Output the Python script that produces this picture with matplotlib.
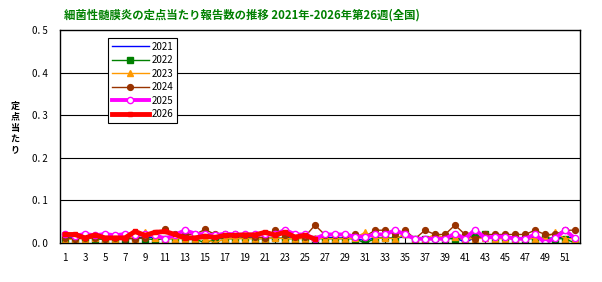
import matplotlib
matplotlib.use("Agg")
import matplotlib.pyplot as plt
import numpy as np

plt.rcParams['font.family'] = ['Noto Sans CJK JP', 'DejaVu Sans']

weeks = list(range(1, 53))
y2021 = [0.012, 0.012, 0.010, 0.012, 0.012, 0.010, 0.012, 0.012, 0.014, 0.012, 0.012, 0.010,
         0.012, 0.012, 0.010, 0.012, 0.012, 0.010, 0.012, 0.012, 0.012, 0.010, 0.012, 0.012,
         0.012, 0.010, 0.014, 0.012, 0.012, 0.010, 0.006, 0.012, 0.012, 0.012, 0.014, 0.012,
         0.012, 0.010, 0.012, 0.012, 0.002, 0.012, 0.014, 0.012, 0.012, 0.010, 0.012, 0.012,
         0.010, 0.012, 0.014, 0.012]
y2022 = [0.010, 0.010, 0.012, 0.010, 0.008, 0.010, 0.010, 0.012, 0.010, 0.008, 0.010, 0.010,
         0.012, 0.010, 0.000, 0.010, 0.010, 0.010, 0.012, 0.010, 0.010, 0.012, 0.010, 0.010,
         0.012, 0.010, 0.010, 0.010, 0.010, 0.010, 0.000, 0.010, 0.012, 0.010, 0.020, 0.010,
         0.010, 0.012, 0.010, 0.010, 0.010, 0.020, 0.020, 0.010, 0.012, 0.010, 0.010, 0.010,
         0.012, 0.010, 0.010, 0.000]
y2023 = [0.008, 0.010, 0.010, 0.012, 0.010, 0.010, 0.020, 0.010, 0.025, 0.012, 0.010, 0.010,
         0.010, 0.010, 0.010, 0.000, 0.010, 0.010, 0.010, 0.010, 0.010, 0.012, 0.010, 0.010,
         0.010, 0.012, 0.010, 0.010, 0.010, 0.012, 0.025, 0.010, 0.012, 0.010, 0.020, 0.010,
         0.010, 0.020, 0.012, 0.015, 0.010, 0.010, 0.012, 0.010, 0.010, 0.010, 0.012, 0.010,
         0.012, 0.025, 0.010, 0.010]
y2024 = [0.012, 0.010, 0.012, 0.012, 0.010, 0.012, 0.010, 0.010, 0.012, 0.020, 0.032, 0.020,
         0.020, 0.020, 0.032, 0.020, 0.020, 0.020, 0.018, 0.015, 0.012, 0.030, 0.018, 0.015,
         0.015, 0.042, 0.019, 0.018, 0.018, 0.020, 0.015, 0.030, 0.030, 0.020, 0.030, 0.010,
         0.030, 0.020, 0.020, 0.042, 0.020, 0.010, 0.020, 0.020, 0.020, 0.020, 0.020, 0.030,
         0.020, 0.020, 0.030, 0.030]
y2025 = [0.021, 0.017, 0.021, 0.018, 0.021, 0.018, 0.021, 0.019, 0.021, 0.019, 0.010, 0.019,
         0.030, 0.022, 0.020, 0.018, 0.022, 0.020, 0.020, 0.020, 0.020, 0.020, 0.031, 0.020,
         0.020, 0.010, 0.020, 0.020, 0.020, 0.015, 0.015, 0.020, 0.020, 0.030, 0.020, 0.010,
         0.010, 0.010, 0.010, 0.022, 0.010, 0.031, 0.012, 0.015, 0.015, 0.010, 0.010, 0.020,
         0.001, 0.011, 0.030, 0.011]
weeks2026 = list(range(1, 27))
y2026 = [0.020, 0.020, 0.012, 0.019, 0.012, 0.012, 0.012, 0.027, 0.018, 0.025, 0.027, 0.020,
         0.012, 0.012, 0.016, 0.013, 0.018, 0.018, 0.019, 0.019, 0.025, 0.019, 0.025, 0.014,
         0.018, 0.009]

W, H = 602, 282
fig = plt.figure(figsize=(W / 100, H / 100), dpi=100)
ax = fig.add_axes([60 / W, 1 - 243 / H, 520 / W, 213 / H])

ax.plot(weeks, y2021, color='#0000ff', lw=1.0, label='2021')
ax.plot(weeks, y2022, color='#008000', lw=1.0, marker='s', ms=3.8, label='2022')
ax.plot(weeks, y2023, color='#ff9900', lw=1.0, marker='^', ms=5, label='2023')
ax.plot(weeks, y2024, color='#993300', lw=1.0, marker='o', ms=4.2, label='2024')
ax.plot(weeks, y2025, color='#ff00ff', lw=2.8, marker='o', ms=4.5, mfc='white',
        mec='#ff00ff', mew=1.0, label='2025')
ax.plot(weeks2026, y2026, color='#ff0000', lw=3.5, marker='s', ms=2.5, label='2026')

ax.set_xlim(0.5, 52.5)
ax.set_ylim(0, 0.5)
ax.set_yticks([0, 0.1, 0.2, 0.3, 0.4, 0.5])
ax.set_yticklabels(['0. 0', '0. 1', '0. 2', '0. 3', '0. 4', '0. 5'], fontsize=7)
ax.set_xticks(weeks)
ax.set_xticklabels([str(w) if w % 2 == 1 else '' for w in weeks], fontsize=7)
ax.tick_params(axis='x', direction='in', length=4, width=0.8, pad=7)
ax.tick_params(axis='y', length=0, pad=9)
for yv in [0.1, 0.2, 0.3, 0.4]:
    ax.axhline(yv, color='black', lw=0.8, zorder=0)
for s in ax.spines.values():
    s.set_linewidth(1.0)
    s.set_color('black')

leg = ax.legend(loc='upper left', bbox_to_anchor=(48 / 520, 1 - 8 / 213), fontsize=7,
                frameon=True, fancybox=False, edgecolor='black', framealpha=1,
                handlelength=3.8, labelspacing=0.36, borderpad=0.4, handletextpad=0.3,
                borderaxespad=0)
leg.get_frame().set_linewidth(0.8)

fig.text(242 / W, 1 - 15 / H, '細菌性髄膜炎の定点当たり報告数の推移 2021年-2026年第26週(全国)',
         color='#008000', fontsize=8.2, fontweight='bold', ha='center', va='center')
fig.text(15 / W, 1 - 128 / H, '定\n点\n当\nた\nり', fontsize=6.5, ha='center', va='center',
         linespacing=1.25, fontweight='bold')

fig.savefig('out.png', dpi=100)
